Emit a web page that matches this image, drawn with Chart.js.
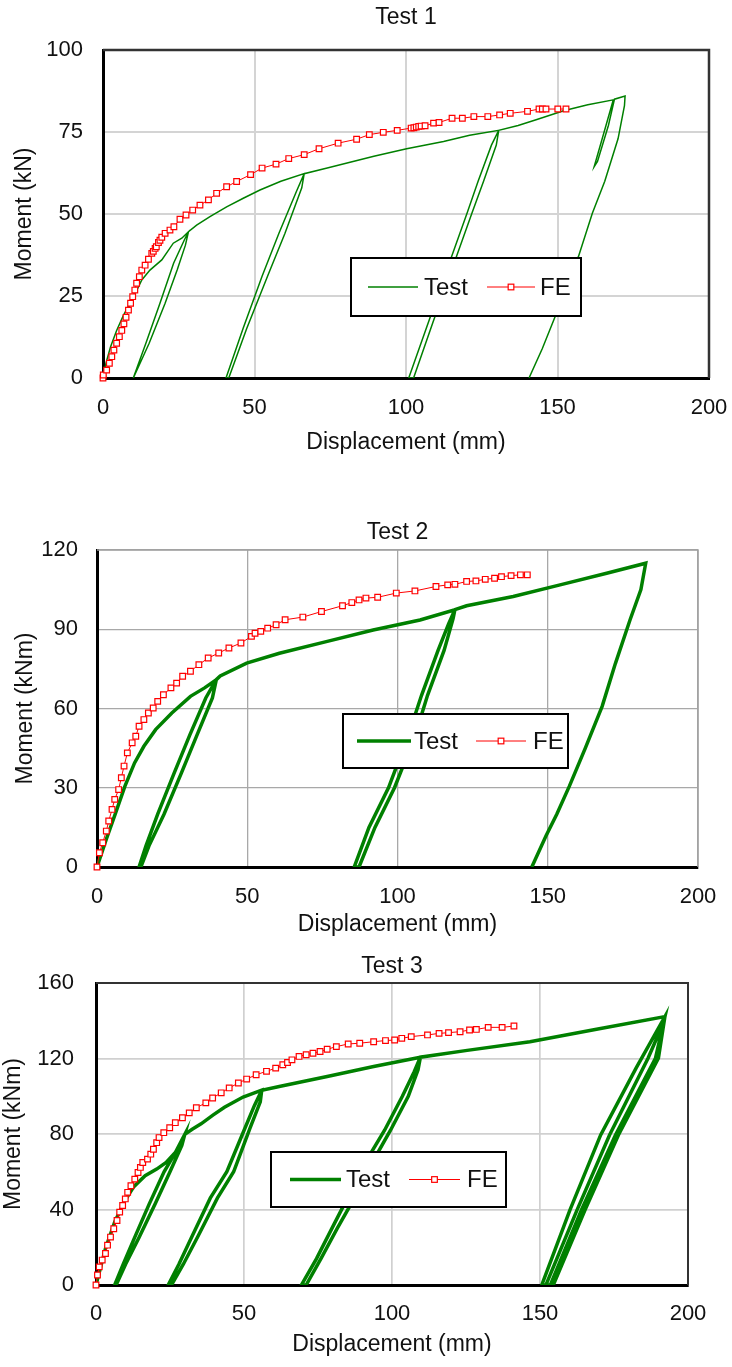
<!DOCTYPE html>
<html>
<head>
<meta charset="utf-8">
<script src="https://cdn.jsdelivr.net/npm/chart.js@4.4.1/dist/chart.umd.min.js"></script>
<style>
  body { margin: 0; background: #fff; }
  #page { position: relative; width: 732px; height: 1367px; }
  canvas { position: absolute; left: 0; }
</style>
</head>
<body>
<div id="page">
  <canvas id="c1" width="732" height="470" style="top:0px"></canvas>
  <canvas id="c2" width="732" height="440" style="top:500px"></canvas>
  <canvas id="c3" width="732" height="427" style="top:940px"></canvas>
</div>
<script>
// Moment vs displacement, three tests: measured (Test) and FE model

const xTicks = [0, 50, 100, 150, 200];
const yTicks1 = [0, 25, 50, 75, 100];
const yTicks2 = [0, 30, 60, 90, 120];
const yTicks3 = [0, 40, 80, 120, 160];

// Test 1 - envelope with unload/reload loops
const test1 = [
  [0,0],[1,4.6],[2.5,9.5],[4.5,14.5],[6.7,19],[8.9,22.8],[11.7,27.8],[12.8,29.9],[15.5,32.9],[19.4,36],[23.2,41.1],[26,42.6],[28.2,44.6],
  [27.2,40.5],[24.5,33],[20.5,22.8],[15.2,10.5],[10,0],
  [14.3,11],[18.8,22.8],[23.3,35],[26.8,42],[28.2,44.6],
  [30.9,46.6],[35.3,49.2],[40.8,52.2],[46.3,54.8],[51.8,57.3],[58.7,60],[66.4,62.3],
  [65.6,58],[60,44],[54.3,31],[47.4,15],[41.5,0],
  [40.6,0],[46.2,15],[52.5,31],[58,44],[63.9,57],[66.4,62.3],
  [74,64],[89.4,67.6],[100.2,69.9],[112.4,72.1],[121,74],[130.6,75.5],
  [129.8,71],[125.6,60],[121.8,50.4],[115.1,33],[108.9,17],[102.5,0],
  [100.9,0],[107.4,17],[113.5,33],[120.2,50.4],[123.8,60],[128.2,71],[130.6,75.5],
  [137,77],[143.2,78.8],[152,81.5],[160,83.3],[168.4,84.8],
  [166,77],[162.1,64.4],[163.2,66],[166.8,77],[168.8,85],
  [172.3,86],[172.1,83],[170,73],[165.6,60],[161.5,50.2],[156.9,37],[153,27.5],[149.3,18.9],[145,9],[140.6,0]
];
const fe1 = [
  [0,0],[0.1,0.9],[1.2,2.4],[2.1,4.5],[2.9,6.5],[3.6,8.5],[4.5,10.6],[5.4,12.6],[6.2,14.5],[6.9,16.5],[7.6,18.5],
  [8.4,20.7],[9.1,22.8],[9.8,24.8],[10.5,26.8],[11.1,28.9],[12,30.9],[12.8,32.9],[13.9,34.4],[15,36.2],[16.1,38],
  [16.6,38.6],[17.2,39.5],[17.6,40],[18.3,41.3],[18.8,42],[19.4,42.9],[20.5,44.1],[22.1,45.1],[23.4,46.1],[25.4,48.4],
  [27.4,49.7],[29.6,51.2],[32,52.7],[34.8,54.3],[37.5,56.3],[40.8,58.3],[44.1,59.9],[48.7,62],[52.5,64],[57.1,65.2],
  [61.3,66.9],[66.4,68.1],[71.3,69.9],[77.6,71.6],[83.7,72.8],[87.9,74.2],[92.5,74.9],[97.1,75.5],[101.7,76.2],
  [102.6,76.3],[103.4,76.5],[104.2,76.7],[105,76.8],[106.3,76.9],[109.1,77.7],[110.9,77.9],[115.2,79.2],[118.6,79.2],
  [122.4,79.7],[127,79.7],[130.9,80.2],[134.4,80.7],[140.1,81.3],[143.9,82],[145,82],[146.2,82],[150.1,82],[152.8,82]
];

// Test 2
const test2 = [
  [0,0],[3.1,10.5],[6.2,20.5],[9.3,30.6],[12.5,39.4],[15.6,45.7],[19.5,52],[24.9,58.3],[31.1,64.6],[35.8,67.8],[39.7,70.9],
  [38.4,64],[33.3,50],[28.1,35.6],[22.3,20],[17.3,8],[14.6,0],
  [14,0],[16.3,8],[20.2,20],[25.7,35.6],[30.9,50],[36.2,64],[39.7,70.9],
  [41,72.3],[49.8,77.2],[60.7,80.9],[76.3,85.3],[91.9,89.7],[107.5,93.5],[119.1,97.4],
  [118.5,94],[115.5,82],[110,65],[105.8,49.5],[99,30],[92.5,15],[87.2,0],
  [85.6,0],[90.5,15],[97,30],[103.5,49.5],[108,65],[113.5,82],[117,92],[119.1,97.4],
  [123,98.9],[138.5,102.4],[154.1,106.8],[169.6,111.2],[182.6,115],
  [181,105],[177.4,93.6],[172.5,77],[168.1,60.8],[162.5,45],[157.2,30.6],[153,20],[149.4,11.7],[144.7,0]
];
const fe2 = [
  [0,0],[0.8,5.4],[1.9,9.2],[3.1,13.6],[3.9,17.4],[5,21.8],[5.9,25.6],[7.2,29.3],[8.1,33.8],[9,38.2],[10.1,43.2],
  [11.7,47],[12.9,49.5],[14,53.3],[15.6,55.8],[17.1,58.3],[18.7,60.2],[20.2,62.7],[22.1,65.2],[24.6,67.8],[26.5,69.6],
  [28.5,72.2],[31.1,74.1],[33.9,76.6],[37,79.1],[40.5,81],[43.9,82.9],[47.9,84.8],[51.4,87.3],[52.6,88.5],[54.5,89.2],
  [56.8,90.4],[59.6,91.7],[62.6,93.6],[68.5,94.6],[74.7,96.7],[81.7,98.9],[84.8,100.1],[87.2,101.1],[89.5,101.8],
  [93.4,102.1],[99.6,103.7],[105.8,104.5],[112.8,106.2],[116.7,106.8],[119.1,107],[123,108.1],[126.1,108.3],
  [129.2,108.9],[132.3,109.3],[134.6,109.9],[137.8,110.3],[140.9,110.6],[143.2,110.6]
];

// Test 3
const test3 = [
  [0,0],[3.2,19.3],[6.3,33.3],[9.5,43.9],[12.6,51.8],[16.6,57.9],[20.5,61.4],[23.7,64.9],[26.8,70.2],[30,79.8],
  [29,74],[25,60],[20,43],[14.5,25],[10,11],[6.8,0],
  [6.3,0],[9.2,11],[13,25],[18,43],[23,60],[27.5,72],[30,79.8],
  [32.5,82.5],[35.5,85.4],[39.5,90],[43.4,94.2],[49.7,99.6],[56,103.2],
  [55.5,97],[52,83],[46.5,60],[41,46],[34.5,26],[29.5,11],[25.5,0],
  [24.4,0],[28,11],[32.5,26],[38.6,46],[44.2,60],[49.5,80],[53.5,95],[56,103.2],
  [62.3,105.3],[78.1,110.5],[93.8,115.8],[109.6,120.7],
  [108.8,114],[105.5,100],[99.5,82],[94.6,68.4],[88,48],[81.5,30],[76,14],[71,0],
  [69.4,0],[74.5,14],[79.7,30],[85.6,48],[92.3,68.4],[97.5,82],[103.5,100],[107.5,113],[109.6,120.7],
  [125.4,124.3],[146.6,128.9],[169.1,135.5],[192.2,142.2],
  [190,120.1],[176.5,79.5],[165.2,39.7],[154.5,0],
  [150.6,0],[160.1,39.7],[170.5,79.5],[182.5,115],[192.2,142.2],
  [189,120.1],[175.5,79.5],[164,39.7],[153.5,0],
  [152,0],[162.5,39.7],[173.5,79.5],[186.5,120.1],[192,140]
];
const fe3 = [
  [0,0],[0.5,5.3],[1.1,9.6],[2.1,13.2],[3.2,16.7],[3.9,21.1],[4.9,25.4],[6,29.8],[7.1,34.2],[8,38.6],[9,42.1],
  [9.9,45.6],[10.7,49.1],[11.8,52.6],[13.1,56.1],[14.2,59.6],[15,62.3],[15.8,64.9],[17.4,66.7],[18.5,69.3],[19.4,71.9],
  [20.5,75.4],[21.3,78.1],[22.9,80.7],[24.9,83.3],[26.8,86],[29.2,88.6],[31.5,91.2],[33.9,93.9],[37.1,96.5],[39.4,99.1],
  [42.3,101.8],[45,104.4],[48.1,107],[50.9,109.1],[54.1,111.4],[57.6,113.2],[60.7,114.9],[63.1,116.7],[64.7,117.9],
  [66.2,119.3],[68.6,121.1],[71,122],[73.3,122.8],[75.7,123.7],[78.1,124.9],[81.2,126.3],[85.2,127.7],[89.1,128.1],
  [93.8,128.9],[97.8,129.5],[100.9,129.8],[103.3,130.7],[106.5,131.6],[112,132.5],[115.9,133.3],[119.1,133.7],
  [123,134.2],[126.2,135.1],[128.5,135.4],[132.5,136.5],[137.2,136.5],[141.2,137.2]
];

const FONT = "'Liberation Sans', Arial, sans-serif";
const GREEN = '#008000';
const RED = '#ff0000';
const TEXT = '#111';

// legend box drawn inside the plot, like the spreadsheet original
const boxLegend = {
  id: 'boxLegend',
  afterDatasetsDraw(chart, args, opts) {
    const c = chart.ctx;
    c.save();
    c.fillStyle = '#fff';
    c.fillRect(opts.x, opts.y, opts.w, opts.h);
    c.strokeStyle = '#000';
    c.lineWidth = 2;
    c.strokeRect(opts.x, opts.y, opts.w, opts.h);
    const cy = opts.y + opts.h / 2;
    opts.items.forEach(it => {
      const ds = chart.data.datasets.find(d => d.label === it.label);
      c.strokeStyle = ds.borderColor;
      c.lineWidth = ds.borderWidth;
      c.beginPath();
      c.moveTo(it.x0, cy);
      c.lineTo(it.x1, cy);
      c.stroke();
      if (ds.pointRadius > 0) {
        const s = ds.pointRadius * Math.SQRT1_2;
        const mx = (it.x0 + it.x1) / 2;
        c.fillStyle = ds.pointBackgroundColor;
        c.lineWidth = ds.pointBorderWidth;
        c.strokeStyle = ds.pointBorderColor;
        c.fillRect(mx - s, cy - s, 2 * s, 2 * s);
        c.strokeRect(mx - s, cy - s, 2 * s, 2 * s);
      }
      c.fillStyle = TEXT;
      c.font = '24px ' + FONT;
      c.textBaseline = 'middle';
      c.textAlign = 'left';
      c.fillText(it.label, it.tx, cy + 1);
    });
    c.restore();
  }
};

// top and right edges of the plot frame
const frame = {
  id: 'frame',
  beforeDatasetsDraw(chart, args, opts) {
    const {left, top, right, bottom} = chart.chartArea;
    const c = chart.ctx;
    c.save();
    c.strokeStyle = opts.color;
    c.lineWidth = opts.width;
    c.beginPath();
    c.moveTo(left, top);
    c.lineTo(right, top);
    c.lineTo(right, bottom);
    c.stroke();
    c.restore();
  }
};

const toXY = arr => arr.map(p => ({x: p[0], y: p[1]}));

function buildChart(id, o) {
  const canvas = document.getElementById(id);
  const H = canvas.height;
  const lh = 23 * 1.2;
  return new Chart(canvas, {
    type: 'scatter',
    data: {
      datasets: [
        {
          label: 'FE', data: toXY(o.fe), showLine: true,
          borderColor: RED, borderWidth: 1,
          pointStyle: 'rect', pointRadius: 4, pointBorderWidth: 1.2,
          pointBackgroundColor: '#fff', pointBorderColor: RED,
          clip: false, order: 0
        },
        {
          label: 'Test', data: toXY(o.test), showLine: true,
          borderColor: GREEN, borderWidth: o.testWidth,
          pointRadius: 0, order: 1
        }
      ]
    },
    options: {
      responsive: false,
      animation: false,
      layout: { padding: { left: 0, right: 732 - o.area.right, top: 0, bottom: 0 } },
      plugins: {
        legend: { display: false },
        tooltip: { enabled: false },
        title: {
          display: true, text: o.title, fullSize: false, color: TEXT,
          font: { family: FONT, size: 23, weight: 'normal' },
          padding: { top: o.titleY - lh / 2, bottom: o.area.top - lh - (o.titleY - lh / 2) }
        },
        boxLegend: o.legend,
        frame: { color: o.frameColor, width: o.frameWidth }
      },
      scales: {
        x: {
          type: 'linear', min: xTicks[0], max: xTicks[xTicks.length - 1],
          // offset the labels with an invisible tick mark so the plot is not squeezed on the right
          ticks: { stepSize: xTicks[1] - xTicks[0], padding: 0, color: TEXT, font: { family: FONT, size: 22 } },
          grid: { color: o.gridColor, lineWidth: o.gridWidth, drawTicks: true, tickLength: o.xTickPad, tickColor: 'rgba(0,0,0,0)' },
          border: { color: '#000', width: 3 },
          title: {
            display: true, text: 'Displacement (mm)', color: TEXT,
            font: { family: FONT, size: 23 },
            padding: { top: 0, bottom: H - o.xTitleY - lh / 2 }
          },
          afterFit: s => { s.height = H - o.area.bottom; }
        },
        y: {
          type: 'linear', min: o.yTicks[0], max: o.yTicks[o.yTicks.length - 1],
          ticks: { stepSize: o.yTicks[1] - o.yTicks[0], padding: o.yTickPad, color: TEXT, font: { family: FONT, size: 22 } },
          grid: { color: o.gridColor, lineWidth: o.gridWidth, drawTicks: false },
          border: { color: '#000', width: 3 },
          title: {
            display: true, text: o.yTitle, color: TEXT,
            font: { family: FONT, size: 23 },
            padding: { top: Math.max(o.yTitleX - lh / 2, 0), bottom: 0 }
          },
          afterFit: s => { s.width = o.area.left; }
        }
      }
    },
    plugins: [boxLegend, frame]
  });
}

buildChart('c1', {
  title: 'Test 1', yTitle: 'Moment (kN)', yTicks: yTicks1,
  test: test1, fe: fe1, testWidth: 1.5,
  area: { left: 103, right: 709, top: 50, bottom: 378 },
  titleY: 18, xTitleY: 443, yTitleX: 25, xTickPad: 17, yTickPad: 20,
  gridColor: '#d4d4d4', gridWidth: 2, frameColor: '#333', frameWidth: 2.5,
  legend: { x: 351, y: 258, w: 230, h: 58, items: [
    { label: 'Test', x0: 368, x1: 418, tx: 424 },
    { label: 'FE', x0: 487, x1: 535, tx: 540 }
  ] }
});

buildChart('c2', {
  title: 'Test 2', yTitle: 'Moment (kNm)', yTicks: yTicks2,
  test: test2, fe: fe2, testWidth: 3.5,
  area: { left: 97, right: 698, top: 50, bottom: 367 },
  titleY: 33, xTitleY: 425, yTitleX: 26, xTickPad: 17, yTickPad: 19,
  gridColor: '#a8a8a8', gridWidth: 1.3, frameColor: '#a0a0a0', frameWidth: 1.5,
  legend: { x: 343, y: 214, w: 225, h: 54, items: [
    { label: 'Test', x0: 357, x1: 411, tx: 414 },
    { label: 'FE', x0: 476, x1: 526, tx: 533 }
  ] }
});

buildChart('c3', {
  title: 'Test 3', yTitle: 'Moment (kNm)', yTicks: yTicks3,
  test: test3, fe: fe3, testWidth: 3.5,
  area: { left: 96, right: 688, top: 43, bottom: 345 },
  titleY: 27, xTitleY: 405, yTitleX: 14, xTickPad: 16, yTickPad: 22,
  gridColor: '#d0d0d0', gridWidth: 1.7, frameColor: '#333', frameWidth: 2,
  legend: { x: 271, y: 212, w: 235, h: 55, items: [
    { label: 'Test', x0: 290, x1: 341, tx: 346 },
    { label: 'FE', x0: 409, x1: 460, tx: 467 }
  ] }
});
</script>
</body>
</html>
